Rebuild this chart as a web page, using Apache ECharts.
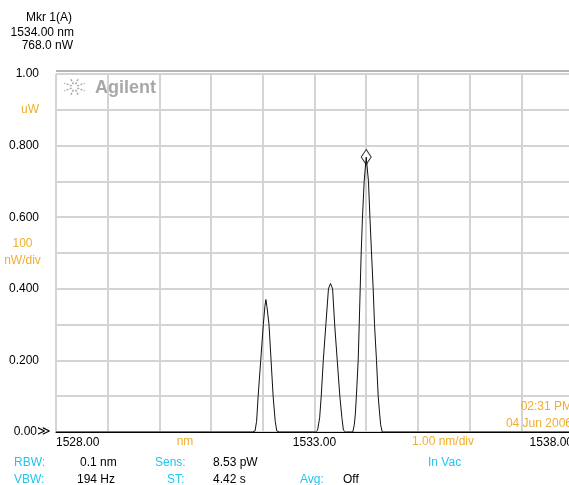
<!DOCTYPE html>
<html>
<head>
<meta charset="utf-8">
<script src="https://cdn.jsdelivr.net/npm/echarts@6.0.0/dist/echarts.min.js"></script>
<style>
html,body{margin:0;padding:0;background:#fff;}
#chart{width:569px;height:485px;}
</style>
</head>
<body>
<div id="chart"></div>
<script>
// Wavelength (nm) and power (uW)
const wavelengths = [
  1528.00, 1531.80, 1531.85, 1531.88, 1531.91, 1531.96, 1532.01, 1532.04, 1532.06, 1532.08, 1532.12, 1532.16, 1532.20, 1532.24, 1532.27, 1532.32,
  1533.02, 1533.06, 1533.10, 1533.13, 1533.17, 1533.22, 1533.27, 1533.31, 1533.35, 1533.39, 1533.44, 1533.49, 1533.53, 1533.56, 1533.60,
  1533.74, 1533.77, 1533.79, 1533.81, 1533.845, 1533.865, 1533.884, 1533.903, 1533.928, 1533.961, 1534.00, 1534.044, 1534.072, 1534.103, 1534.135, 1534.161, 1534.199, 1534.232, 1534.26, 1534.28, 1534.31,
  1538.00
];
const powers = [
  0, 0, 0.003, 0.03, 0.10, 0.20, 0.30, 0.35, 0.370, 0.35, 0.30, 0.20, 0.10, 0.03, 0.003, 0,
  0, 0.005, 0.04, 0.10, 0.20, 0.30, 0.40, 0.415, 0.40, 0.30, 0.20, 0.10, 0.04, 0.005, 0,
  0, 0.02, 0.05, 0.10, 0.20, 0.30, 0.40, 0.50, 0.60, 0.70, 0.768, 0.70, 0.60, 0.50, 0.40, 0.30, 0.20, 0.10, 0.05, 0.02, 0,
  0
];
const marker = [1534.00, 0.768];
const yTickValues = [0, 0.2, 0.4, 0.6, 0.8, 1.0];
const yTickLabels = ['0.00', '0.200', '0.400', '0.600', '0.800', '1.00'];
const xTickValues = [1528, 1533, 1538];
const xTickLabels = ['1528.00', '1533.00', '1538.00'];

const FONT = '"Liberation Sans", Arial, Helvetica, sans-serif';
const ORANGE = '#efae2f';
const CYAN = '#22c4f0';
const GRIDC = '#d4d4d4';

const chart = echarts.init(document.getElementById('chart'), null, {renderer: 'canvas'});

function txt(text, x, y, color, align, size, weight, family) {
  return {
    type: 'text', x: x, y: y, silent: true, z: 50,
    style: {
      text: text, fill: color || '#000',
      align: align || 'left', verticalAlign: 'middle',
      fontSize: size || 12, fontWeight: weight || 'normal',
      fontFamily: family || FONT
    }
  };
}

// Agilent starburst
const star = [];
const cx = 74.5, cy = 87;
for (let i = 0; i < 8; i++) {
  const a = i * Math.PI / 4 + Math.PI / 8;
  star.push({
    type: 'line', silent: true, z: 50,
    shape: {x1: cx + Math.cos(a) * 3, y1: cy + Math.sin(a) * 3, x2: cx + Math.cos(a) * 11, y2: cy + Math.sin(a) * 10},
    style: {stroke: '#a8a8a8', lineWidth: 1.5, lineDash: [2, 1.5]}
  });
}

const data = wavelengths.map((w, i) => [w, powers[i]]);

chart.setOption({
  animation: false,
  backgroundColor: '#fff',
  grid: {left: 56, top: 74, width: 517, height: 358, containLabel: false, outerBoundsMode: 'none'},
  xAxis: {
    type: 'value', min: 1528, max: 1538, interval: 1,
    axisLine: {show: true, onZero: false, lineStyle: {color: '#000', width: 1}},
    axisTick: {show: false},
    splitLine: {show: true, lineStyle: {color: GRIDC, width: 2}},
    axisLabel: {
      show: true, margin: 5, fontSize: 12, fontFamily: FONT, color: '#000',
      alignMinLabel: 'left', alignMaxLabel: 'right',
      formatter: function (v) {
        const k = xTickValues.findIndex(t => Math.abs(t - v) < 1e-6);
        return k >= 0 ? xTickLabels[k] : '';
      }
    }
  },
  yAxis: {
    type: 'value', min: 0, max: 1.0, interval: 0.1,
    axisLine: {show: false},
    axisTick: {show: false},
    splitLine: {show: true, lineStyle: {color: GRIDC, width: 2}},
    axisLabel: {
      show: true, margin: 17, fontSize: 12, fontFamily: FONT, color: '#000',
      formatter: function (v) {
        const k = yTickValues.findIndex(t => Math.abs(t - v) < 1e-6);
        if (k < 0) return '';
        return k === 0 ? '{z|' + yTickLabels[k] + '}' : yTickLabels[k];
      },
      rich: {z: {fontSize: 12, fontFamily: FONT, color: '#000', padding: [0, 2, 0, 0]}}
    }
  },
  series: [{
    type: 'line', data: data, showSymbol: false, smooth: false,
    lineStyle: {color: '#111', width: 1},
    z: 10,
    markPoint: {
      symbol: 'diamond', symbolSize: [10, 15],
      itemStyle: {color: '#fff', borderColor: '#333', borderWidth: 1},
      label: {show: false},
      data: [{coord: marker}]
    }
  }],
  graphic: [
    {type: 'line', silent: true, z: 40, shape: {x1: 56, y1: 71, x2: 569, y2: 71}, style: {stroke: '#b4b4b4', lineWidth: 2}},
    txt('Mkr 1(A)', 72, 17.5, '#000', 'right'),
    txt('1534.00 nm', 74, 32.5, '#000', 'right'),
    txt('768.0 nW', 73, 46, '#000', 'right'),
    txt('uW', 39, 110, ORANGE, 'right'),
    txt('100', 22.5, 244, ORANGE, 'center'),
    txt('nW/div', 22.5, 261, ORANGE, 'center'),
    txt('\u226B', 37, 432, '#000', 'left', 13, 'normal', '"DejaVu Sans", sans-serif'),
    txt('Agilent', 95, 88.5, '#a8a8a8', 'left', 18, 'bold'),
    txt('nm', 185, 442, ORANGE, 'center'),
    txt('1.00 nm/div', 412, 442, ORANGE, 'left'),
    txt('02:31 PM', 572, 407, ORANGE, 'right'),
    txt('04 Jun 2006', 572, 424, ORANGE, 'right'),
    txt('RBW:', 14, 463, CYAN),
    txt('0.1 nm', 80, 463),
    txt('Sens:', 155, 463, CYAN),
    txt('8.53 pW', 213, 463),
    txt('In Vac', 428, 463, CYAN),
    txt('VBW:', 14, 480, CYAN),
    txt('194 Hz', 77, 480),
    txt('ST:', 167, 480, CYAN),
    txt('4.42 s', 213, 480),
    txt('Avg:', 300, 480, CYAN),
    txt('Off', 343, 480)
  ].concat(star)
});
</script>
</body>
</html>
